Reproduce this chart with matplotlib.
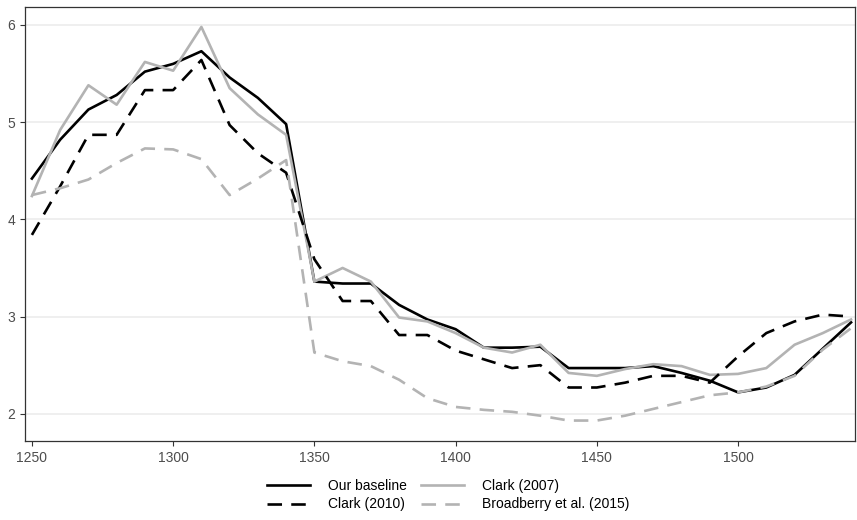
import matplotlib.pyplot as plt

plt.rcParams['font.family'] = ['Liberation Sans', 'DejaVu Sans']

years = list(range(1250, 1541, 10))

baseline = [4.42, 4.82, 5.13, 5.28, 5.52, 5.60, 5.73, 5.46, 5.25, 4.98,
            3.36, 3.34, 3.34, 3.12, 2.97, 2.87, 2.68, 2.68, 2.69, 2.47,
            2.47, 2.47, 2.49, 2.42, 2.34, 2.22, 2.27, 2.40, 2.67, 2.94]

clark_2007 = [4.24, 4.92, 5.38, 5.18, 5.62, 5.53, 5.98, 5.35, 5.08, 4.87,
              3.36, 3.50, 3.36, 2.99, 2.95, 2.83, 2.68, 2.63, 2.71, 2.42,
              2.39, 2.46, 2.51, 2.49, 2.40, 2.41, 2.47, 2.71, 2.83, 2.97]

clark_2010 = [3.84, 4.34, 4.87, 4.87, 5.33, 5.33, 5.64, 4.97, 4.68, 4.48,
              3.59, 3.16, 3.16, 2.81, 2.81, 2.65, 2.56, 2.47, 2.50, 2.27,
              2.27, 2.32, 2.39, 2.39, 2.32, 2.59, 2.83, 2.95, 3.02, 3.00]

broadberry = [4.25, 4.32, 4.41, 4.58, 4.73, 4.72, 4.62, 4.25, 4.42, 4.61,
              2.63, 2.54, 2.49, 2.35, 2.16, 2.07, 2.04, 2.02, 1.98, 1.93,
              1.93, 1.98, 2.05, 2.12, 2.19, 2.22, 2.28, 2.39, 2.66, 2.88]

grey = '#B3B3B3'
lw = 1.9
dash = (5.5, 3.5)

fig = plt.figure(figsize=(8.57, 5.20), dpi=100)
ax = fig.add_axes([0.029, 0.152, 0.969, 0.8345])

l1, = ax.plot(years, baseline, color='black', lw=lw, label='Our baseline')
l2, = ax.plot(years, clark_2007, color=grey, lw=lw, label='Clark (2007)')
l3, = ax.plot(years, clark_2010, color='black', lw=lw, dashes=dash, label='Clark (2010)')
l4, = ax.plot(years, broadberry, color=grey, lw=lw, dashes=dash, label='Broadberry et al. (2015)')

ax.set_xlim(1247.5, 1541.5)
ax.set_ylim(1.72, 6.185)
ax.set_xticks([1250, 1300, 1350, 1400, 1450, 1500])
ax.set_yticks([2, 3, 4, 5, 6])
ax.grid(axis='y', color='#EBEBEB', lw=1.1)
ax.set_axisbelow(True)
for s in ax.spines.values():
    s.set_linewidth(0.9)
    s.set_color('#333333')
ax.tick_params(labelsize=10, labelcolor='#4D4D4D', color='#333333', length=3.5)

fig.legend([l1, l3, l2, l4], [h.get_label() for h in [l1, l3, l2, l4]],
           ncol=2, loc='center', bbox_to_anchor=(0.523, 0.048), frameon=False,
           fontsize=10, handlelength=3.1, columnspacing=1.0, labelspacing=0.35,
           handletextpad=1.3)

fig.savefig('out.png', dpi=100)
